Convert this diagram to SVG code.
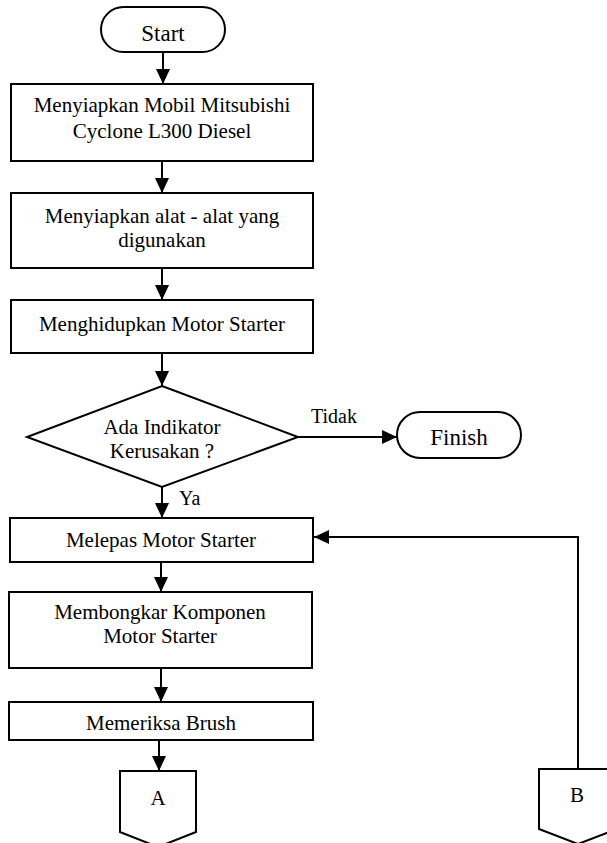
<svg xmlns="http://www.w3.org/2000/svg" width="607" height="843" viewBox="0 0 607 843" font-family="'Liberation Serif', Tinos, 'Times New Roman', 'DejaVu Serif', serif">
<style>
.shape{fill:#fff;stroke:#000;stroke-width:2}
.t{font-size:21px;fill:#000;text-anchor:middle}
.tt{font-size:23px;fill:#000;text-anchor:middle}
.lbl{font-size:20px;fill:#000}
.c{fill:none;stroke:#000;stroke-width:2}
</style>
<defs>
<marker id="ah" markerUnits="userSpaceOnUse" markerWidth="15" markerHeight="14" refX="15" refY="7" orient="auto">
<path d="M0,0 L15,7 L0,14 z" fill="#000"/>
</marker>
</defs>
<rect width="607" height="843" fill="#fff"/>
<g id="connectors">
<line class="c" x1="163" y1="52" x2="163" y2="84" marker-end="url(#ah)"/>
<line class="c" x1="162" y1="161" x2="162" y2="193" marker-end="url(#ah)"/>
<line class="c" x1="162" y1="268" x2="162" y2="300" marker-end="url(#ah)"/>
<line class="c" x1="162" y1="353" x2="162" y2="386" marker-end="url(#ah)"/>
<line class="c" x1="162" y1="487" x2="162" y2="518" marker-end="url(#ah)"/>
<line class="c" x1="161" y1="562" x2="161" y2="592" marker-end="url(#ah)"/>
<line class="c" x1="161" y1="668" x2="161" y2="702" marker-end="url(#ah)"/>
<line class="c" x1="159" y1="740" x2="159" y2="771" marker-end="url(#ah)"/>
<line class="c" x1="298" y1="437" x2="397" y2="437" marker-end="url(#ah)"/>
<polyline class="c" points="578,769 578,537 314,537" marker-end="url(#ah)"/>
<text class="lbl" x="311" y="423">Tidak</text>
<text class="lbl" x="179" y="505">Ya</text>
</g>
<g id="start">
<rect class="shape" x="101" y="7" width="124" height="45" rx="22.5"/>
<text class="tt" x="163" y="41">Start</text>
</g>
<g id="box1">
<rect class="shape" x="11" y="84" width="302" height="77"/>
<text class="t" x="162" y="112">Menyiapkan Mobil Mitsubishi</text>
<text class="t" x="162" y="138">Cyclone L300 Diesel</text>
</g>
<g id="box2">
<rect class="shape" x="11" y="193" width="302" height="75"/>
<text class="t" x="162" y="223">Menyiapkan alat - alat yang</text>
<text class="t" x="162" y="247">digunakan</text>
</g>
<g id="box3">
<rect class="shape" x="11" y="300" width="302" height="53"/>
<text class="t" x="162" y="331">Menghidupkan Motor Starter</text>
</g>
<g id="decision">
<polygon class="shape" points="162,386 298,437 162,487 27,437"/>
<text class="t" x="162" y="434" font-size="20">Ada Indikator</text>
<text class="t" x="162" y="458" font-size="20">Kerusakan ?</text>
</g>
<g id="finish">
<rect class="shape" x="397" y="412" width="124" height="46" rx="23"/>
<text class="tt" x="459" y="445">Finish</text>
</g>
<g id="box4">
<rect class="shape" x="10" y="518" width="303" height="44"/>
<text class="t" x="161" y="547">Melepas Motor Starter</text>
</g>
<g id="box5">
<rect class="shape" x="9" y="592" width="303" height="76"/>
<text class="t" x="160" y="619">Membongkar Komponen</text>
<text class="t" x="160" y="643">Motor Starter</text>
</g>
<g id="box6">
<rect class="shape" x="9" y="702" width="304" height="38"/>
<text class="t" x="161" y="730">Memeriksa Brush</text>
</g>
<g id="connA">
<polygon class="shape" points="120,771 196,771 196,832 158,847 120,832"/>
<text class="t" x="158" y="805">A</text>
</g>
<g id="connB">
<polygon class="shape" points="539,769 617,769 617,829 578,844 539,829"/>
<text class="t" x="577" y="802">B</text>
</g>
</svg>
